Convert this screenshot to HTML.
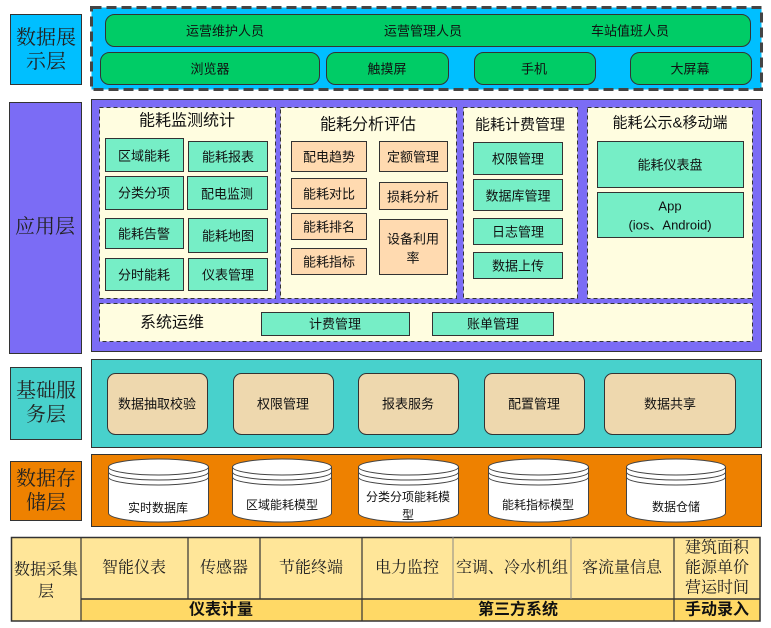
<!DOCTYPE html>
<html><head><meta charset="utf-8"><style>
html,body{margin:0;padding:0;background:#fff;}
svg{display:block;}
.s{font-family:"Liberation Sans","Noto Sans CJK SC",sans-serif;fill:#111;}
.r{font-family:"Liberation Serif","Noto Serif CJK SC",serif;fill:#222;}
</style></head><body>
<svg width="771" height="628" viewBox="0 0 771 628" xmlns="http://www.w3.org/2000/svg">
<g text-anchor="middle" dominant-baseline="central">

<!-- Layer labels -->
<rect x="10.5" y="14.5" width="71" height="70" fill="#00BFFF" stroke="#333"/>
<text class="r" x="46" y="38" font-size="20">数据展</text>
<text class="r" x="46" y="62" font-size="20">示层</text>

<rect x="9.5" y="102.5" width="72" height="251" fill="#7B6CF5" stroke="#333"/>
<text class="r" x="45" y="227" font-size="20">应用层</text>

<rect x="10.5" y="367.5" width="71" height="72" fill="#48D1CC" stroke="#333"/>
<text class="r" x="46" y="391" font-size="20">基础服</text>
<text class="r" x="46" y="415" font-size="20">务层</text>

<rect x="10.5" y="461.5" width="71" height="59" fill="#EE8100" stroke="#333"/>
<text class="r" x="46" y="479" font-size="20">数据存</text>
<text class="r" x="46" y="503" font-size="20">储层</text>

<!-- Data display layer -->
<rect x="91.5" y="7.5" width="670" height="82" fill="#00BFFF" stroke="#444" stroke-width="3" stroke-dasharray="10,5"/>
<rect x="105.5" y="14.5" width="645" height="32" rx="9" fill="#00CC66" stroke="#333"/>
<text class="s" x="225" y="31" font-size="13">运营维护人员</text>
<text class="s" x="423" y="31" font-size="13">运营管理人员</text>
<text class="s" x="630" y="31" font-size="13">车站值班人员</text>
<rect x="100.5" y="52.5" width="219" height="32" rx="9" fill="#00CC66" stroke="#333"/>
<rect x="326.5" y="52.5" width="122" height="32" rx="9" fill="#00CC66" stroke="#333"/>
<rect x="474.5" y="52.5" width="121" height="32" rx="9" fill="#00CC66" stroke="#333"/>
<rect x="630.5" y="52.5" width="121" height="32" rx="9" fill="#00CC66" stroke="#333"/>
<text class="s" x="210" y="69" font-size="13">浏览器</text>
<text class="s" x="387" y="69" font-size="13">触摸屏</text>
<text class="s" x="534" y="69" font-size="13">手机</text>
<text class="s" x="690" y="69" font-size="13">大屏幕</text>

<!-- Application layer -->
<rect x="91.5" y="99.5" width="670" height="252" fill="#7B6CF5" stroke="#333"/>
<g fill="#FFFDE0" stroke="#333" stroke-dasharray="4,3">
<rect x="99.5" y="107.5" width="176" height="191"/>
<rect x="280.5" y="107.5" width="176" height="191"/>
<rect x="463.5" y="107.5" width="114" height="191"/>
<rect x="587.5" y="107.5" width="165" height="191"/>
<rect x="99.5" y="303.5" width="653" height="38"/>
</g>
<text class="s" x="187" y="121" font-size="16">能耗监测统计</text>
<text class="s" x="368" y="125" font-size="16">能耗分析评估</text>
<text class="s" x="520" y="125" font-size="15">能耗计费管理</text>
<text class="s" x="670" y="123" font-size="15">能耗公示&amp;移动端</text>

<g fill="#76EEC6" stroke="#333">
<rect x="105.5" y="138.5" width="78" height="33"/>
<rect x="188.5" y="141.5" width="79" height="30"/>
<rect x="105.5" y="176.5" width="78" height="33"/>
<rect x="187.5" y="176.5" width="80" height="33"/>
<rect x="105.5" y="218.5" width="78" height="30"/>
<rect x="188.5" y="218.5" width="79" height="34"/>
<rect x="105.5" y="258.5" width="78" height="32"/>
<rect x="188.5" y="258.5" width="79" height="32"/>
<rect x="473.5" y="142.5" width="89" height="32"/>
<rect x="473.5" y="179.5" width="89" height="31"/>
<rect x="473.5" y="218.5" width="89" height="26"/>
<rect x="473.5" y="252.5" width="89" height="26"/>
<rect x="597.5" y="141.5" width="146" height="46"/>
<rect x="597.5" y="192.5" width="146" height="45"/>
<rect x="261.5" y="312.5" width="148" height="23"/>
<rect x="432.5" y="312.5" width="121" height="23"/>
</g>
<g fill="#FFDAB0" stroke="#333">
<rect x="291.5" y="141.5" width="75" height="30"/>
<rect x="291.5" y="178.5" width="75" height="30"/>
<rect x="291.5" y="213.5" width="75" height="26"/>
<rect x="291.5" y="248.5" width="75" height="26"/>
<rect x="379.5" y="141.5" width="68" height="30"/>
<rect x="379.5" y="182.5" width="68" height="27"/>
<rect x="379.5" y="219.5" width="68" height="55"/>
</g>
<g font-size="13">
<text class="s" x="144" y="156">区域能耗</text>
<text class="s" x="228" y="157">能耗报表</text>
<text class="s" x="144" y="193">分类分项</text>
<text class="s" x="227" y="194">配电监测</text>
<text class="s" x="144" y="234">能耗告警</text>
<text class="s" x="228" y="236">能耗地图</text>
<text class="s" x="144" y="275">分时能耗</text>
<text class="s" x="228" y="275">仪表管理</text>
<text class="s" x="329" y="157">配电趋势</text>
<text class="s" x="329" y="194">能耗对比</text>
<text class="s" x="329" y="227">能耗排名</text>
<text class="s" x="329" y="262">能耗指标</text>
<text class="s" x="413" y="157">定额管理</text>
<text class="s" x="413" y="197">损耗分析</text>
<text class="s" x="413" y="239">设备利用</text>
<text class="s" x="413" y="258">率</text>
<text class="s" x="518" y="159">权限管理</text>
<text class="s" x="518" y="196">数据库管理</text>
<text class="s" x="518" y="232">日志管理</text>
<text class="s" x="518" y="266">数据上传</text>
<text class="s" x="670" y="165">能耗仪表盘</text>
<text class="s" x="670" y="206">App</text>
<text class="s" x="670" y="225">(ios、Android)</text>
<text class="s" x="335" y="324">计费管理</text>
<text class="s" x="493" y="324">账单管理</text>
</g>
<text class="s" x="172" y="323" font-size="16">系统运维</text>

<!-- Basic services -->
<rect x="91.5" y="359.5" width="670" height="88" fill="#48D1CC" stroke="#333"/>
<g fill="#EED8AE" stroke="#333">
<rect x="107.5" y="373.5" width="100" height="61" rx="8"/>
<rect x="233.5" y="373.5" width="100" height="61" rx="8"/>
<rect x="358.5" y="373.5" width="100" height="61" rx="8"/>
<rect x="484.5" y="373.5" width="100" height="61" rx="8"/>
<rect x="604.5" y="373.5" width="131" height="61" rx="8"/>
</g>
<g font-size="13">
<text class="s" x="157" y="404">数据抽取校验</text>
<text class="s" x="283" y="404">权限管理</text>
<text class="s" x="408" y="404">报表服务</text>
<text class="s" x="534" y="404">配置管理</text>
<text class="s" x="670" y="404">数据共享</text>
</g>

<!-- Storage -->
<rect x="91.5" y="454.5" width="670" height="72" fill="#EE8100" stroke="#333"/>
<g fill="#fff" stroke="#444">
<path d="M108.5 467 V513 A50 9 0 0 0 208.5 513 V467"/>
<ellipse cx="158.5" cy="467" rx="50" ry="8"/>
<path d="M108.5 472 A50 8 0 0 0 208.5 472 M108.5 477 A50 8 0 0 0 208.5 477" fill="none"/>
<path d="M232.5 467 V513 A49.5 9 0 0 0 331.5 513 V467"/>
<ellipse cx="282" cy="467" rx="49.5" ry="8"/>
<path d="M232.5 472 A49.5 8 0 0 0 331.5 472 M232.5 477 A49.5 8 0 0 0 331.5 477" fill="none"/>
<path d="M358.5 467 V513 A50 9 0 0 0 458.5 513 V467"/>
<ellipse cx="408.5" cy="467" rx="50" ry="8"/>
<path d="M358.5 472 A50 8 0 0 0 458.5 472 M358.5 477 A50 8 0 0 0 458.5 477" fill="none"/>
<path d="M488.5 467 V513 A50 9 0 0 0 588.5 513 V467"/>
<ellipse cx="538.5" cy="467" rx="50" ry="8"/>
<path d="M488.5 472 A50 8 0 0 0 588.5 472 M488.5 477 A50 8 0 0 0 588.5 477" fill="none"/>
<path d="M626.5 467 V513 A49.5 9 0 0 0 725.5 513 V467"/>
<ellipse cx="676" cy="467" rx="49.5" ry="8"/>
<path d="M626.5 472 A49.5 8 0 0 0 725.5 472 M626.5 477 A49.5 8 0 0 0 725.5 477" fill="none"/>
</g>
<g font-size="12">
<text class="s" x="158" y="508">实时数据库</text>
<text class="s" x="282" y="505">区域能耗模型</text>
<text class="s" x="408" y="497">分类分项能耗模</text>
<text class="s" x="408" y="515">型</text>
<text class="s" x="538" y="505">能耗指标模型</text>
<text class="s" x="676" y="507">数据仓储</text>
</g>

<!-- Data collection table -->
<rect x="11" y="537" width="749" height="84" fill="#FFE699"/>
<rect x="81" y="599" width="679" height="22" fill="#FFD966"/>
<g stroke="#333" stroke-width="1.2" fill="none">
<rect x="11.5" y="537.5" width="748.5" height="83.5" stroke-width="1.5"/>
<line x1="81" y1="537" x2="81" y2="621"/>
<line x1="81" y1="599" x2="760" y2="599" stroke-width="1.5"/>
<line x1="188" y1="537" x2="188" y2="599"/>
<line x1="260" y1="537" x2="260" y2="599"/>
<line x1="362" y1="537" x2="362" y2="621"/>
<line x1="674" y1="537" x2="674" y2="621"/>
</g>
<g stroke="#888" stroke-width="1">
<line x1="453" y1="537" x2="453" y2="599"/>
<line x1="571" y1="537" x2="571" y2="599"/>
</g>
<g font-size="16">
<text class="r" x="46" y="570">数据采集</text>
<text class="r" x="46" y="592">层</text>
<text class="r" x="134" y="568">智能仪表</text>
<text class="r" x="224" y="568">传感器</text>
<text class="r" x="311" y="568">节能终端</text>
<text class="r" x="407" y="568">电力监控</text>
<text class="r" x="512" y="568">空调、冷水机组</text>
<text class="r" x="622" y="568">客流量信息</text>
<text class="r" x="717" y="548">建筑面积</text>
<text class="r" x="717" y="568">能源单价</text>
<text class="r" x="717" y="588">营运时间</text>
</g>
<g font-size="16" font-weight="bold">
<text class="s" x="221" y="610">仪表计量</text>
<text class="s" x="518" y="610">第三方系统</text>
<text class="s" x="717" y="610">手动录入</text>
</g>
</g>
</svg>
</body></html>
